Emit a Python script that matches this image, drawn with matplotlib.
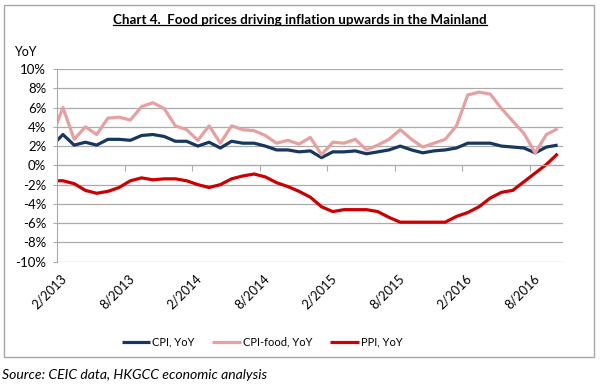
import numpy as np
import matplotlib
matplotlib.use("Agg")
import matplotlib.pyplot as plt
from matplotlib.patches import Rectangle
from matplotlib.lines import Line2D
import matplotlib.transforms as mtransforms

# === Data: monthly YoY (%), 1/2013 - 10/2016 ===
months = [f"{m}/{y}" for y in range(2013, 2017) for m in range(1, 13)][:46]
cpi = [2.0, 3.2, 2.1, 2.4, 2.1, 2.7, 2.7, 2.6, 3.1, 3.2, 3.0, 2.5,
       2.5, 2.0, 2.4, 1.8, 2.5, 2.3, 2.3, 2.0, 1.6, 1.6, 1.4, 1.5,
       0.8, 1.4, 1.4, 1.5, 1.2, 1.4, 1.6, 2.0, 1.6, 1.3, 1.5, 1.6,
       1.8, 2.3, 2.3, 2.3, 2.0, 1.9, 1.8, 1.3, 1.9, 2.1]
cpi_food = [2.9, 6.0, 2.7, 4.0, 3.2, 4.9, 5.0, 4.7, 6.1, 6.5, 5.9, 4.1,
            3.7, 2.6, 4.1, 2.3, 4.1, 3.7, 3.6, 3.1, 2.3, 2.6, 2.2, 2.9,
            1.1, 2.4, 2.3, 2.7, 1.6, 2.1, 2.7, 3.7, 2.7, 1.9, 2.3, 2.7,
            4.1, 7.3, 7.6, 7.4, 5.9, 4.6, 3.3, 1.3, 3.2, 3.8]
ppi = [-1.6, -1.6, -1.9, -2.6, -2.9, -2.7, -2.3, -1.6, -1.3, -1.5, -1.4, -1.4,
       -1.6, -2.0, -2.3, -2.0, -1.4, -1.1, -0.9, -1.2, -1.8, -2.2, -2.7, -3.3,
       -4.3, -4.8, -4.6, -4.6, -4.6, -4.8, -5.4, -5.9, -5.9, -5.9, -5.9, -5.9,
       -5.3, -4.9, -4.3, -3.4, -2.8, -2.6, -1.7, -0.8, 0.1, 1.2]
tick_labels = ["2/2013", "8/2013", "2/2014", "8/2014", "2/2015", "8/2015", "2/2016", "8/2016"]

# === Figure ===
plt.rcParams['font.family'] = ['Lato', 'DejaVu Sans']
fig = plt.figure(figsize=(6, 3.88), dpi=100)
ax = fig.add_axes([57.3 / 600, 1 - 261.7 / 388, (563.3 - 57.3) / 600, (261.7 - 69) / 388])

x = np.arange(len(months))
ax.plot(x, cpi, color='#17375E', lw=2.3, label='CPI, YoY', solid_capstyle='butt')
ax.plot(x, cpi_food, color='#E6A0A0', lw=2.3, label='CPI-food, YoY', solid_capstyle='butt')
ax.plot(x, ppi, color='#CC0000', lw=2.3, label='PPI, YoY', solid_capstyle='butt')

ax.set_xlim(0.5, 45.5)
ax.set_ylim(-10, 10)
ax.set_yticks(range(-10, 11, 2))
ax.set_yticklabels([f"{v}%" for v in range(-10, 11, 2)], fontsize=9.5)
ax.grid(axis='y', color='#ABABAB', lw=0.9)
ax.set_axisbelow(True)
for s in ['top', 'right']:
    ax.spines[s].set_visible(False)
ax.spines['left'].set_color('#ABABAB')
ax.spines['bottom'].set_position(('data', 0))
ax.spines['bottom'].set_color('#ABABAB')
ax.tick_params(axis='y', length=3, color='#ABABAB', pad=5)
tick_pos = [0.5 + 6 * i for i in range(len(tick_labels))]
ax.set_xticks(tick_pos)
ax.tick_params(axis='x', length=4, color='#ABABAB', labelbottom=False)

# category labels sit below the plot (the axis itself crosses at 0)
trans = mtransforms.blended_transform_factory(ax.transData, ax.transAxes)
for p, lab in zip(tick_pos, tick_labels):
    ax.text(p + 0.3, -0.055, lab, transform=trans, rotation=45, rotation_mode='anchor',
            ha='right', va='top', fontsize=9.2)

fig.text(14 / 600, 1 - 52 / 388, 'YoY', fontsize=9, va='center', ha='left')

title = fig.text(0.5, 1 - 20 / 388, 'Chart 4.  Food prices driving inflation upwards in the Mainland',
                 fontsize=9.6, fontweight='bold', ha='center', va='center')

fig.legend(loc='center', bbox_to_anchor=(262 / 600, 1 - 342 / 388), ncol=3, frameon=False,
           fontsize=8, handlelength=2.6, handletextpad=0.15, columnspacing=1.6)

fig.text(2 / 600, 1 - 375 / 388, 'Source: CEIC data, HKGCC economic analysis',
         fontsize=10.1, style='italic', ha='left', va='center')

# outer border
fig.patches.append(Rectangle((4 / 600, 1 - 357 / 388), 590 / 600, 352 / 388, transform=fig.transFigure,
                             fill=False, edgecolor='#A6A6A6', lw=1))

# underline the title
fig.canvas.draw()
bb = title.get_window_extent().transformed(fig.transFigure.inverted())
fig.add_artist(Line2D([bb.x0, bb.x1], [bb.y0 + 0.003, bb.y0 + 0.003], transform=fig.transFigure,
                      color='black', lw=0.9))

fig.savefig('out.png', dpi=100)
